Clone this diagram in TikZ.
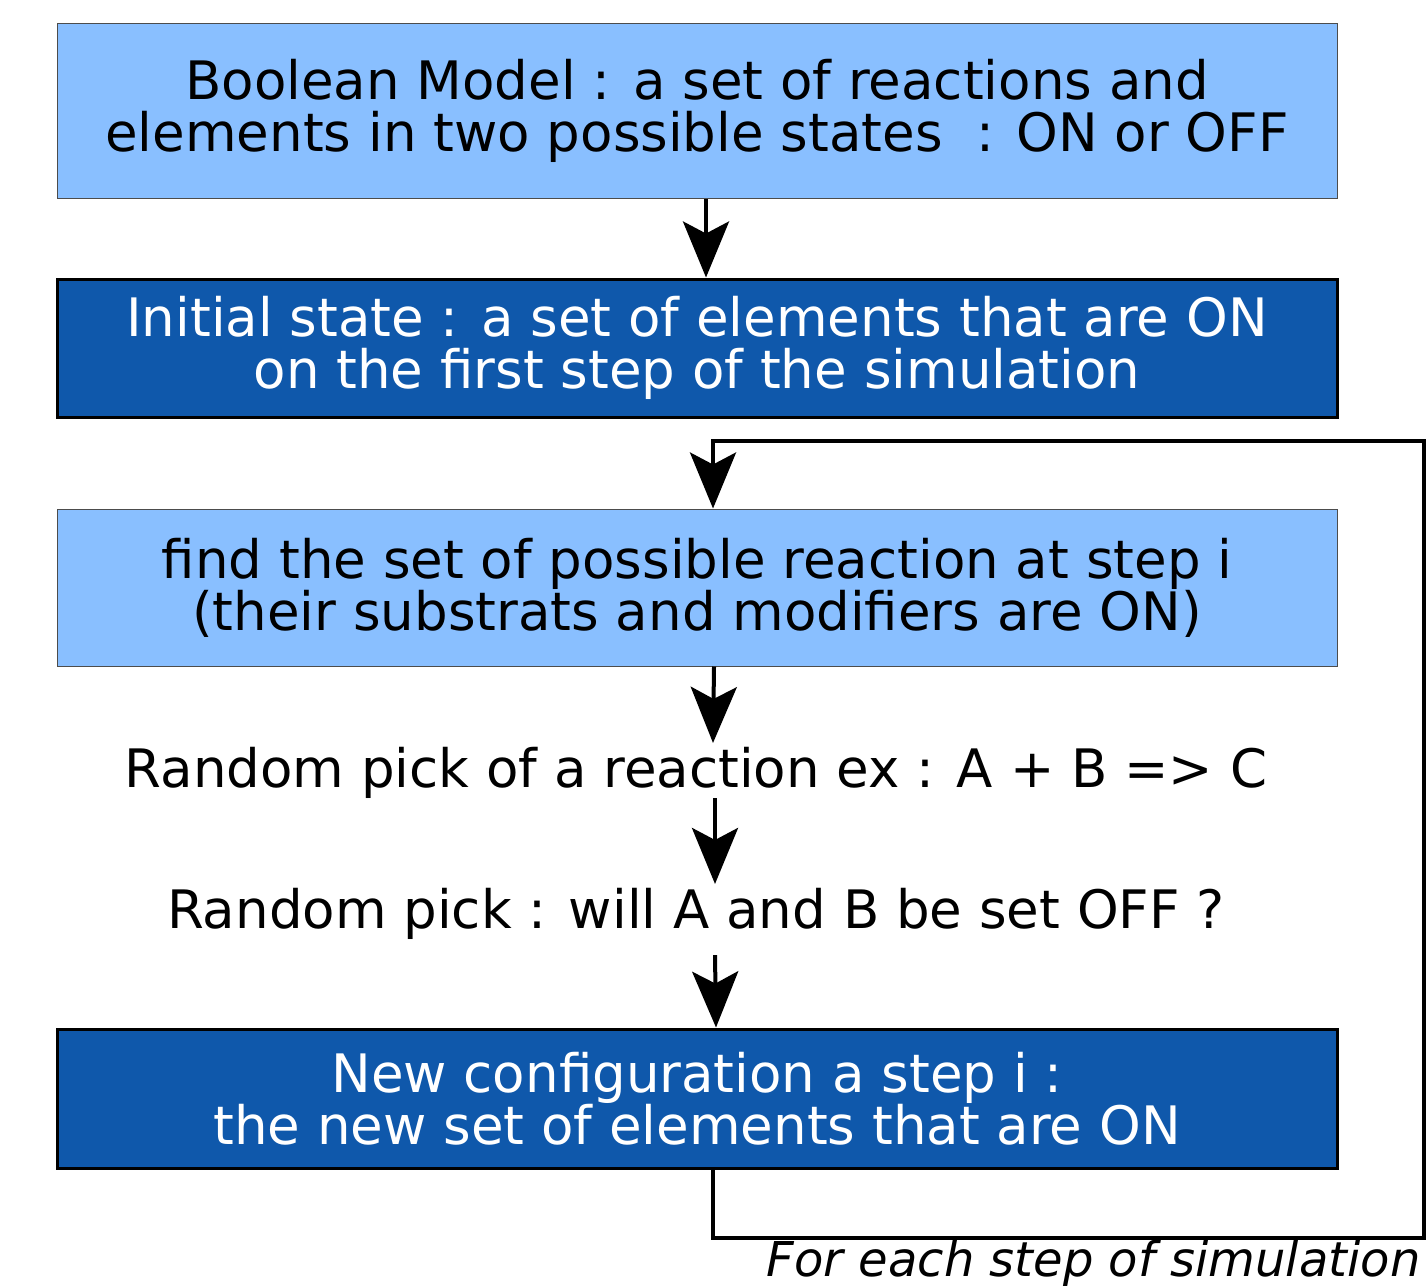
\documentclass[tikz,border=0pt]{standalone}
\usepackage{fontspec}
\setmainfont{DejaVu Sans}
\usetikzlibrary{arrows.meta}
\definecolor{lightbox}{HTML}{89BFFF}
\definecolor{darkbox}{HTML}{0F58AB}
\begin{document}
\begin{tikzpicture}[x=0.5pt,y=-0.5pt,
  txt/.style={font=\fontsize{26.5pt}{26pt}\selectfont, align=center, inner sep=0pt},
  lightstep/.style={txt, draw=black!70, line width=0.5pt, fill=lightbox, minimum width=640pt, text=black},
  darkstep/.style={txt, draw=black, line width=1.5pt, fill=darkbox, minimum width=640pt, text=white},
  conn/.style={line width=2pt, -{Stealth[length=28pt,width=23pt,inset=6pt]}},
  wire/.style={line width=2pt}]
\useasboundingbox (0,0) rectangle (1427,1285);
\node[lightstep, minimum height=87.5pt] (b1) at (697,110.5) {Boolean Model : a set of reactions and\\elements in two possible states \ : ON or OFF};
\node[darkstep, minimum height=69pt] (b2) at (697,348) {Initial state : a set of elements that are ON\\on the first step of the simulation};
\node[lightstep, minimum height=78.5pt] (b3) at (697,587.5) {find the set of possible reaction at step i\\(their substrats and modifiers are ON)};
\node[txt] (t4) at (696,773) {Random pick of a reaction ex : A + B => C};
\node[txt] (t5) at (696,914) {Random pick : will A and B be set OFF ?};
\node[darkstep, minimum height=69.5pt] (b6) at (697,1098.5) {New configuration a step i :\\the new set of elements that are ON};
\node[txt, font=\fontsize{24pt}{24pt}\selectfont\itshape, anchor=base east] (lab) at (1421,1276) {For each step of simulation};

\draw[conn] ([xshift=4.5pt]b1.south) -- ([xshift=4.5pt]b2.north);
\draw[conn] ([xshift=8.5pt]b3.south) -- ([xshift=8.5pt,yshift=2pt]t4.north);
\draw[conn] ([xshift=9.5pt,yshift=0.5pt]t4.south) -- ([xshift=9.5pt,yshift=2pt]t5.north);
\draw[conn] ([xshift=9.5pt,yshift=-7.5pt]t5.south) -- ([xshift=9.5pt]b6.north);

\coordinate (L1) at (713,1238);
\coordinate (L2) at (1424,1238);
\coordinate (L3) at (1424,441);
\coordinate (L4) at (713,441);
\draw[wire] (b6.south -| L1) -- (L1) -- (L2) -- (L3) -- (L4) -- ++(0,10);
\draw[conn] ([yshift=-1pt]L4) -- (b3.north -| L4);
\end{tikzpicture}
\end{document}
